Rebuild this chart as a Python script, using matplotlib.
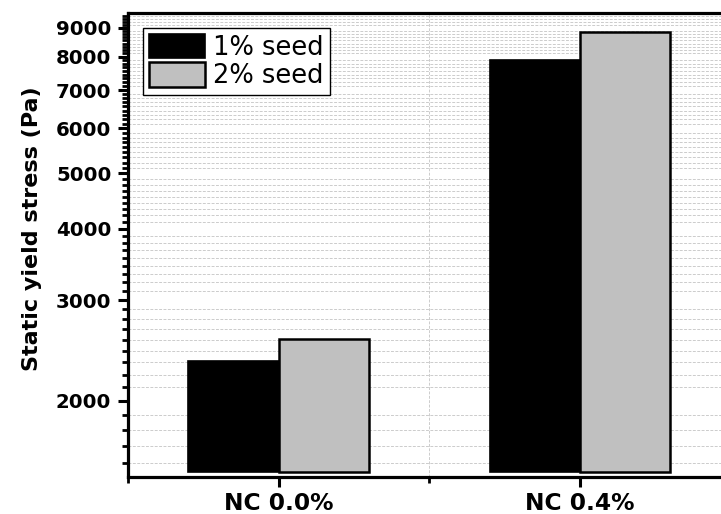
import matplotlib
matplotlib.use("Agg")
import matplotlib.pyplot as plt
import numpy as np
from matplotlib.ticker import FixedLocator, NullFormatter, FuncFormatter
from matplotlib.patches import Patch

# ---- data ----
categories = ["NC 0.0%", "NC 0.4%"]
series_names = ["1% seed", "2% seed"]
seed_1pct = [2350, 7900]
seed_2pct = [2560, 8830]
y_major_ticks = [2000, 3000, 4000, 5000, 6000, 7000, 8000, 9000]

# ---- style ----
colors = ["#000000", "#c0c0c0"]
BASE = 1500
YMIN, YMAX = 1470, 9550
bar_w = 0.30

plt.rcParams['font.family'] = ['DejaVu Sans']

fig = plt.figure(figsize=(7.21, 5.14), dpi=100)
ax = fig.add_axes([128/721, 1 - 477/514, (730.5 - 128)/721, (477 - 13)/514])

x = np.arange(len(categories))
h1 = [v - BASE for v in seed_1pct]
h2 = [v - BASE for v in seed_2pct]
ax.bar(x - bar_w/2, h1, bar_w, bottom=BASE, color=colors[0], edgecolor='black',
       linewidth=1.2, zorder=3)
ax.bar(x + bar_w/2, h2, bar_w, bottom=BASE, color=colors[1], edgecolor='black',
       linewidth=1.8, zorder=3)

ax.set_yscale('log')
ax.set_ylim(YMIN, YMAX)
ax.set_xlim(-0.5, 1.5)

ax.yaxis.set_major_locator(FixedLocator(y_major_ticks))
ax.yaxis.set_major_formatter(FuncFormatter(lambda v, p: f"{int(round(v))}"))
minor = []
for lo in range(1000, 10000, 1000):
    for k in range(1, 9):
        minor.append(lo + k * 1000 / 9)
ax.yaxis.set_minor_locator(FixedLocator(minor))
ax.yaxis.set_minor_formatter(NullFormatter())

ax.set_xticks(x)
ax.set_xticklabels(categories)
ax.xaxis.set_minor_locator(FixedLocator([-0.5, 0.5, 1.5]))

for s in ['left', 'bottom', 'top', 'right']:
    ax.spines[s].set_linewidth(2.3)

ax.tick_params(axis='both', which='major', direction='out', length=7, width=2.2)
ax.tick_params(axis='both', which='minor', direction='out', length=4, width=2.0)
ax.tick_params(axis='y', which='major', pad=5, labelsize=14.2)
ax.tick_params(axis='x', which='major', pad=4, labelsize=16.8)
for lab in ax.get_yticklabels() + ax.get_xticklabels():
    lab.set_fontweight('bold')

ax.grid(which='minor', axis='both', color='#cccccc', linestyle=(0, (3, 1.5)),
        linewidth=0.7, zorder=0)
ax.grid(which='major', visible=False)
ax.set_axisbelow(True)

ax.set_ylabel("Static yield stress (Pa)", fontsize=16, fontweight='bold')
ax.yaxis.set_label_coords((42 - 128)/602.5, 1 - (228.5 - 13)/464)

handles = [Patch(facecolor=colors[0], edgecolor='black', linewidth=1.2),
           Patch(facecolor=colors[1], edgecolor='black', linewidth=1.8)]
leg = ax.legend(handles, series_names, loc='upper left',
                bbox_to_anchor=((143 - 128)/602.5, 1 - (28 - 13)/464),
                fontsize=18.5, frameon=True, fancybox=False, shadow=False,
                handlelength=2.2, handleheight=1.1, handletextpad=0.32,
                labelspacing=0.05, borderpad=0.22, borderaxespad=0.0)
leg.get_frame().set_edgecolor('black')
leg.get_frame().set_linewidth(1.0)
leg.get_frame().set_alpha(1.0)

fig.savefig("out.png", dpi=100)
